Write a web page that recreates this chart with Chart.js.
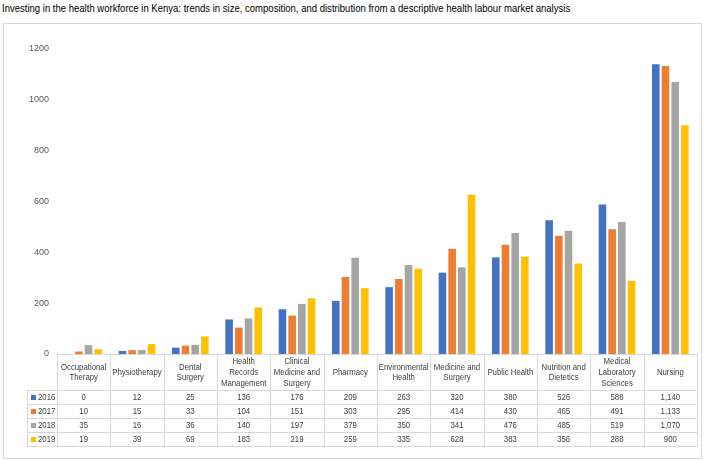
<!DOCTYPE html>
<html>
<head>
    <title>Health workforce in Kenya</title>
    <script src="https://cdn.jsdelivr.net/npm/chart.js"></script>
    <style>
        body {
            margin: 0;
            background: #fff;
            font-family: "Liberation Sans", Arial, sans-serif;
        }
        #title {
            position: absolute;
            left: 2px;
            top: 2px;
            font-size: 11px;
            color: #000;
            white-space: nowrap;
            transform: scaleX(0.866);
            transform-origin: left top;
        }
        #box {
            position: absolute;
            left: 3px;
            top: 23px;
            width: 697px;
            height: 434px;
            border: 1px solid #d9d9d9;
        }
        canvas {
            position: absolute;
            left: 0;
            top: 0;
        }
    </style>
</head>
<body>
    <div id="title">Investing in the health workforce in Kenya: trends in size, composition, and distribution from a descriptive health labour market analysis</div>
    <div id="box">
        <canvas id="workforceChart" width="697" height="434"></canvas>
    </div>

    <script>
        // cadres, with the line breaks used in the data table header
        const categories = [
            ["Occupational", "Therapy"],
            ["Physiotherapy"],
            ["Dental", "Surgery"],
            ["Health", "Records", "Management"],
            ["Clinical", "Medicine and", "Surgery"],
            ["Pharmacy"],
            ["Environmental", "Health"],
            ["Medicine and", "Surgery"],
            ["Public Health"],
            ["Nutrition and", "Dietetics"],
            ["Medical", "Laboratory", "Sciences"],
            ["Nursing"]
        ];
        const years = ["2016", "2017", "2018", "2019"];
        const values2016 = [0, 12, 25, 136, 176, 209, 263, 320, 380, 526, 588, 1140];
        const values2017 = [10, 15, 33, 104, 151, 303, 295, 414, 430, 465, 491, 1133];
        const values2018 = [35, 16, 36, 140, 197, 379, 350, 341, 476, 485, 519, 1070];
        const values2019 = [19, 39, 69, 183, 219, 259, 335, 628, 383, 356, 288, 900];
        const yTicks = [0, 200, 400, 600, 800, 1000, 1200];

        const colors = ['#4472C4', '#ED7D31', '#A5A5A5', '#FFC000'];
        const series = [values2016, values2017, values2018, values2019];
        const font = '"Liberation Sans", Arial, sans-serif';

        // condensed text, the reference uses a narrow face
        function narrowText(ctx, t, x, y) {
            ctx.save();
            ctx.translate(x, y);
            ctx.scale(0.82, 1);
            ctx.fillText(t, 0, 0);
            ctx.restore();
        }

        // draws the Excel-style data table under the plot, columns taken from the x scale
        const dataTable = {
            id: 'dataTable',
            afterDraw(chart) {
                const ctx = chart.ctx;
                const x = chart.scales.x;
                const area = chart.chartArea;
                const half = (x.getPixelForValue(1) - x.getPixelForValue(0)) / 2;
                const top = area.bottom;
                const headH = 36, rowH = 14, labelLeft = 23;
                const left = x.getPixelForValue(0) - half;
                const right = x.getPixelForValue(categories.length - 1) + half;
                const bottom = top + headH + rowH * years.length;

                ctx.save();
                ctx.strokeStyle = '#d9d9d9';
                ctx.lineWidth = 1;
                ctx.beginPath();
                ctx.moveTo(left, top + 0.5);
                ctx.lineTo(right, top + 0.5);
                for (let i = 0; i <= categories.length; i++) {
                    const cx = Math.round(left + i * half * 2) + 0.5;
                    ctx.moveTo(cx, top);
                    ctx.lineTo(cx, bottom);
                }
                for (let r = 0; r <= years.length; r++) {
                    const ry = Math.round(top + headH + r * rowH) + 0.5;
                    ctx.moveTo(labelLeft, ry);
                    ctx.lineTo(right, ry);
                }
                ctx.moveTo(labelLeft + 0.5, top + headH);
                ctx.lineTo(labelLeft + 0.5, bottom);
                ctx.stroke();

                ctx.fillStyle = '#404040';
                ctx.font = '9.5px ' + font;
                ctx.textAlign = 'center';
                ctx.textBaseline = 'middle';
                const lineH = 10.7;
                categories.forEach((lines, i) => {
                    const cx = x.getPixelForValue(i);
                    const cy = top + headH / 2 - (lines.length - 1) * lineH / 2 + 0.5;
                    lines.forEach((t, k) => narrowText(ctx, t, cx, cy + k * lineH));
                });

                years.forEach((yr, r) => {
                    const cy = top + headH + r * rowH + rowH / 2 + 0.5;
                    ctx.fillStyle = colors[r];
                    ctx.fillRect(labelLeft + 4, Math.round(cy) - 3, 5, 5);
                    ctx.fillStyle = '#404040';
                    ctx.textAlign = 'left';
                    narrowText(ctx, yr, labelLeft + 11, cy);
                    ctx.textAlign = 'center';
                    series[r].forEach((v, i) => {
                        narrowText(ctx, v.toLocaleString('en-US'), x.getPixelForValue(i), cy);
                    });
                });
                ctx.restore();
            }
        };

        const ctx = document.getElementById('workforceChart').getContext('2d');
        const chart = new Chart(ctx, {
            type: 'bar',
            data: {
                labels: categories.map(c => c.join(' ')),
                datasets: years.map((yr, i) => ({
                    label: yr,
                    data: series[i],
                    backgroundColor: colors[i],
                    categoryPercentage: 0.727,
                    barPercentage: 0.78
                }))
            },
            options: {
                responsive: false,
                animation: false,
                layout: {
                    padding: { left: 0, right: 4, top: 25, bottom: 104 }
                },
                plugins: {
                    legend: { display: false },
                    tooltip: { enabled: false }
                },
                scales: {
                    x: { display: false },
                    y: {
                        min: 0,
                        max: 1200,
                        afterFit: s => { s.width = 53; },
                        afterBuildTicks: s => { s.ticks = yTicks.map(v => ({ value: v })); },
                        grid: { display: false, drawTicks: false },
                        border: { display: false },
                        ticks: {
                            padding: 8,
                            color: '#595959',
                            font: { family: font, size: 9 },
                            callback: v => String(v)
                        }
                    }
                }
            },
            plugins: [dataTable]
        });
    </script>
</body>
</html>
